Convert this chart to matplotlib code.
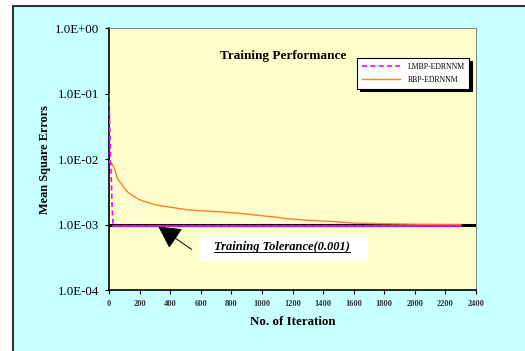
import matplotlib
matplotlib.use("Agg")
import matplotlib.pyplot as plt
from matplotlib.patches import Rectangle
from matplotlib.lines import Line2D
import numpy as np

# Data
lmbp_x = [0, 5, 10, 15, 20, 27, 2300]
lmbp_y = [0.1, 0.03, 0.01, 0.005, 0.002, 0.00097, 0.00097]
rbp_x = [0, 20, 39, 54, 75, 94, 120, 148, 175, 203, 250, 312, 399, 508, 600, 726, 850, 944, 1060, 1184, 1300, 1467, 1609, 1794, 2000, 2300]
rbp_y = [0.0092, 0.0085, 0.0069, 0.0051, 0.0044, 0.0038, 0.0032, 0.00285, 0.0026, 0.0024, 0.0022, 0.0020, 0.00186, 0.0017, 0.00164, 0.00158, 0.0015, 0.00142, 0.00133, 0.00123, 0.00117, 0.00112, 0.00106, 0.00104, 0.00102, 0.00101]
tolerance = 0.001
yticks = [1e-4, 1e-3, 1e-2, 1e-1, 1e0]
ytick_labels = ["1.0E-04", "1.0E-03", "1.0E-02", "1.0E-01", "1.0E+00"]
xticks = list(range(0, 2401, 200))

plt.rcParams['font.family'] = ['Liberation Serif', 'DejaVu Serif']

fig = plt.figure(figsize=(5.25, 3.51), dpi=100)
fig.patch.set_facecolor('white')
bg = Rectangle((13/525, -0.05), 1.1, 1 - 6/351 + 0.05, transform=fig.transFigure,
               facecolor='#C8FFFF', edgecolor='#333333', lw=1.5, zorder=-10)
fig.add_artist(bg)

ax = fig.add_axes([109/525, 1 - 290.3/351, (476 - 109)/525, (290.3 - 28.3)/351])
ax.set_zorder(1)
ax.set_facecolor('#FFFFCC')
ax.set_yscale('log')
ax.set_ylim(1e-4, 1)
ax.set_xlim(0, 2400)

ax.axhline(tolerance, color='black', lw=2.2, zorder=3)
ax.plot(rbp_x, rbp_y, color='#FF7F27', lw=1.0, label='RBP-EDRNNM', zorder=4)
ax.plot(lmbp_x, lmbp_y, color='#FF00FF', lw=1.2, ls=(0, (3, 2)), label='LMBP-EDRNNM', zorder=5)
ax.plot(lmbp_x[-2:], lmbp_y[-2:], color='#FF00FF', lw=1.2, zorder=5)

ax.set_yticks(yticks)
ax.set_yticklabels(ytick_labels, fontsize=9.3)
ax.yaxis.set_minor_locator(matplotlib.ticker.NullLocator())
ax.set_xticks(xticks)
ax.set_xticklabels([str(t) for t in xticks], fontsize=6, fontweight='bold', color='#333333')
ax.tick_params(axis='both', direction='out', length=3, width=0.8, color='black')
ax.tick_params(axis='x', pad=4)
ax.tick_params(axis='y', pad=4)
for s in ['left', 'bottom']:
    ax.spines[s].set_color('black')
    ax.spines[s].set_linewidth(1.2)
for s in ['top', 'right']:
    ax.spines[s].set_color('#888888')
    ax.spines[s].set_linewidth(0.8)

ax.set_ylabel('Mean Square Errors', fontsize=8.8, fontweight='bold', labelpad=3)
ax.set_xlabel('No. of Iteration', fontsize=9.3, fontweight='bold', labelpad=6)

fig.text(283/525, 1 - 56/351, 'Training Performance', ha='center', va='center',
         fontsize=9.5, fontweight='bold', zorder=5)

h, l = ax.get_legend_handles_labels()
order = [1, 0]
leg = ax.legend([h[i] for i in order], [l[i] for i in order], loc='upper left',
                bbox_to_anchor=((353 - 109) / 367, 1 - (54 - 28.3) / 262), fontsize=5.6,
                frameon=True, fancybox=False, shadow={'color': 'black', 'alpha': 1, 'ox': 2, 'oy': -2},
                handlelength=5.0, borderpad=0.6, labelspacing=0.7, handletextpad=0.9)
leg.get_frame().set_edgecolor('black')
leg.get_frame().set_linewidth(0.8)

ax.annotate('', xy=(156 / 525, 1 - 225 / 351), xycoords='figure fraction',
            xytext=(194 / 525, 1 - 251 / 351), textcoords='figure fraction',
            arrowprops=dict(arrowstyle='-|>,head_length=1.4,head_width=0.75', color='black', lw=0.7),
            zorder=6)
box = Rectangle((199/525, 1 - 261/351), (368 - 199)/525, 25/351, transform=fig.transFigure,
                facecolor='white', edgecolor='none', zorder=5)
fig.add_artist(box)
t = fig.text(282/525, 1 - 247/351, 'Training Tolerance(0.001)', ha='center', va='center',
             fontsize=9, fontweight='bold', style='italic', zorder=6)
fig.canvas.draw()
bb = t.get_window_extent()
fig.add_artist(Line2D([bb.x0/525, bb.x1/525], [(bb.y0 + 1)/351, (bb.y0 + 1)/351],
                      transform=fig.transFigure, color='black', lw=0.7, zorder=7))

fig.savefig('out.png', dpi=100)
